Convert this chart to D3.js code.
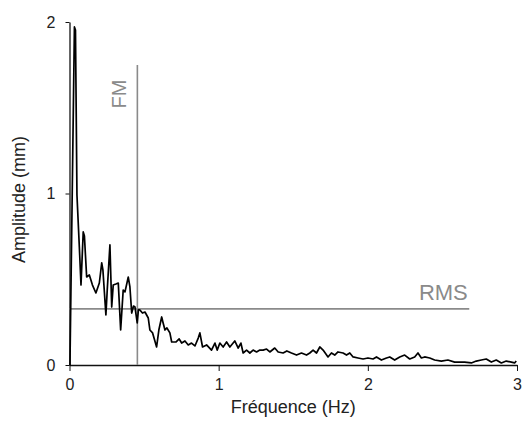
<!DOCTYPE html>
<html>
<head>
<meta charset="utf-8">
<script src="https://cdn.jsdelivr.net/npm/d3@7"></script>
<style>
  body { margin: 0; background: white; }
  text { font-family: "Liberation Sans", Arial, sans-serif; }
</style>
</head>
<body>
<div id="chart"></div>
<script>
"use strict"

// frequency (Hz) and amplitude (mm)
let freq = [
  0, 0.003, 0.033, 0.040, 0.050, 0.066, 0.077, 0.092, 0.100, 0.115,
  0.133, 0.154, 0.177, 0.200, 0.216, 0.224, 0.244, 0.253, 0.271, 0.283,
  0.293, 0.311, 0.327, 0.343, 0.360, 0.372, 0.394, 0.405, 0.417, 0.429,
  0.439, 0.454, 0.462, 0.472, 0.489, 0.506, 0.528, 0.539, 0.557, 0.584,
  0.599, 0.618, 0.626, 0.640, 0.653, 0.673, 0.685, 0.713, 0.735, 0.752,
  0.774, 0.796, 0.818, 0.841, 0.863, 0.874, 0.892, 0.919, 0.952, 0.975,
  0.990, 1.008, 1.030, 1.053, 1.075, 1.108, 1.131, 1.149, 1.164, 1.187,
  1.209, 1.231, 1.254, 1.276, 1.298, 1.321, 1.343, 1.376, 1.399, 1.432,
  1.457, 1.488, 1.522, 1.555, 1.589, 1.611, 1.633, 1.656, 1.678, 1.700,
  1.733, 1.756, 1.778, 1.800, 1.834, 1.857, 1.879, 1.901, 1.934, 1.968,
  2.001, 2.035, 2.058, 2.091, 2.125, 2.147, 2.180, 2.214, 2.247, 2.281,
  2.314, 2.336, 2.359, 2.381, 2.415, 2.448, 2.493, 2.537, 2.582, 2.649,
  2.694, 2.727, 2.761, 2.794, 2.828, 2.861, 2.895, 2.928, 2.962, 2.984,
  2.995
];

let amp = [
  0, 0, 1.971, 1.953, 0.991, 0.688, 0.466, 0.776, 0.752, 0.513,
  0.525, 0.466, 0.420, 0.478, 0.595, 0.554, 0.292, 0.437, 0.700, 0.338,
  0.466, 0.472, 0.478, 0.204, 0.437, 0.426, 0.513, 0.455, 0.303, 0.344,
  0.338, 0.245, 0.321, 0.321, 0.303, 0.309, 0.274, 0.204, 0.187, 0.105,
  0.204, 0.280, 0.251, 0.204, 0.216, 0.187, 0.134, 0.134, 0.152, 0.128,
  0.140, 0.117, 0.128, 0.111, 0.157, 0.187, 0.105, 0.117, 0.087, 0.128,
  0.087, 0.128, 0.105, 0.134, 0.105, 0.140, 0.099, 0.128, 0.070, 0.087,
  0.070, 0.087, 0.076, 0.087, 0.087, 0.093, 0.076, 0.099, 0.076, 0.070,
  0.082, 0.070, 0.058, 0.070, 0.058, 0.070, 0.087, 0.070, 0.105, 0.087,
  0.047, 0.070, 0.058, 0.076, 0.070, 0.058, 0.070, 0.047, 0.041, 0.035,
  0.041, 0.035, 0.047, 0.029, 0.041, 0.047, 0.029, 0.047, 0.058, 0.035,
  0.047, 0.070, 0.041, 0.047, 0.041, 0.029, 0.023, 0.029, 0.017, 0.017,
  0.012, 0.023, 0.029, 0.035, 0.017, 0.029, 0.012, 0.023, 0.017, 0.012,
  0.023
];

let xTicks = [0, 1, 2, 3];
let yTicks = [0, 1, 2];

// reference markers: mean frequency and RMS amplitude
let fmValue = 0.455;
let fmTop = 1.75;
let rmsValue = 0.327;
let rmsEnd = 2.68;

let width = 523, height = 421;
let margin = { left: 69.5, right: 6, top: 22, bottom: 56 };

let svg = d3.select("#chart").append("svg")
  .attr("width", width)
  .attr("height", height)
  .style("background", "white");

let x = d3.scaleLinear()
  .domain([0, 3])
  .range([margin.left, width - margin.right]);

let y = d3.scaleLinear()
  .domain([0, 2])
  .range([height - margin.bottom, margin.top]);

// axes
let xAxis = svg.append("g")
  .attr("transform", "translate(0," + y(0) + ")")
  .call(d3.axisBottom(x).tickValues(xTicks).tickFormat(d3.format("d")).tickSize(6).tickSizeOuter(0));

let yAxis = svg.append("g")
  .attr("transform", "translate(" + x(0) + ",0)")
  .call(d3.axisLeft(y).tickValues(yTicks).tickFormat(d3.format("d")).tickSize(4).tickSizeOuter(0));

[xAxis, yAxis].forEach(function(g) {
  g.select(".domain").attr("stroke", "#111").attr("stroke-width", 1.3);
  g.selectAll(".tick line").attr("stroke", "#111").attr("stroke-width", 1);
  g.selectAll(".tick text")
    .style("font-size", "16px")
    .attr("fill", "#222");
});
xAxis.selectAll(".tick text").attr("dy", "1.0em");
yAxis.selectAll(".tick text").attr("dx", "-0.45em");

// FM and RMS guide lines
svg.append("line")
  .attr("x1", x(fmValue))
  .attr("x2", x(fmValue))
  .attr("y1", y(0))
  .attr("y2", y(fmTop))
  .style("stroke", "#8a8a8a")
  .style("stroke-width", 1.6);

svg.append("line")
  .attr("x1", x(0))
  .attr("x2", x(rmsEnd))
  .attr("y1", y(rmsValue))
  .attr("y2", y(rmsValue))
  .style("stroke", "#8a8a8a")
  .style("stroke-width", 1.6);

svg.append("text")
  .attr("transform", "translate(" + (x(fmValue) - 11) + "," + y(1.58) + ") rotate(-90)")
  .attr("text-anchor", "middle")
  .style("font-size", "20px")
  .attr("fill", "#8a8a8a")
  .text("FM");

svg.append("text")
  .attr("x", x(2.67))
  .attr("y", y(rmsValue) - 9)
  .attr("text-anchor", "end")
  .style("font-size", "22px")
  .attr("fill", "#8a8a8a")
  .text("RMS");

// spectrum
let line = d3.line()
  .x(function(d) { return x(d[0]); })
  .y(function(d) { return y(d[1]); });

svg.append("path")
  .datum(d3.zip(freq, amp))
  .attr("d", line)
  .style("fill", "none")
  .style("stroke", "#000")
  .style("stroke-width", 1.7)
  .style("stroke-linejoin", "round");

// axis titles
svg.append("text")
  .attr("x", (x(0) + x(3)) / 2)
  .attr("y", 413)
  .attr("text-anchor", "middle")
  .style("font-size", "18px")
  .attr("fill", "#222")
  .text("Fréquence (Hz)");

svg.append("text")
  .attr("transform", "translate(25," + (y(1) + 6) + ") rotate(-90)")
  .attr("text-anchor", "middle")
  .style("font-size", "18px")
  .attr("fill", "#222")
  .text("Amplitude (mm)");
</script>
</body>
</html>
